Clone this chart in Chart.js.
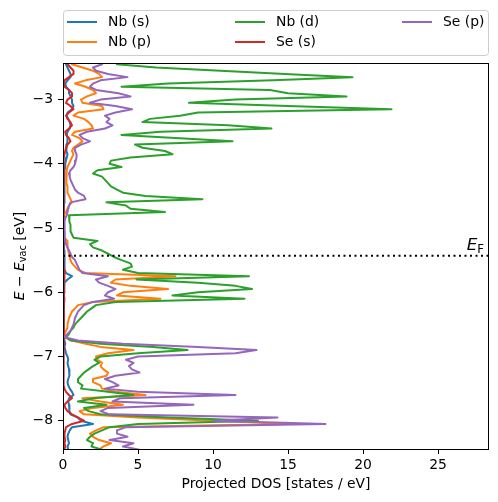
<!DOCTYPE html>
<html>
<head>
<meta charset="utf-8">
<script src="https://cdn.jsdelivr.net/npm/chart.js@4.4.0/dist/chart.umd.min.js"></script>
<style>
  html, body { margin: 0; padding: 0; background: #fff; }
  canvas { display: block; }
</style>
</head>
<body>
<canvas id="pdosChart" width="498" height="502"></canvas>
<script>
// energy grid (eV, relative to vacuum), top to bottom
var energies = [
  -2.40, -2.45, -2.50, -2.55, -2.60, -2.65, -2.70, -2.75, -2.80, -2.85,
  -2.90, -2.95, -3.00, -3.05, -3.10, -3.15, -3.20, -3.25, -3.30, -3.35,
  -3.40, -3.45, -3.50, -3.55, -3.60, -3.65, -3.70, -3.75, -3.80, -3.85,
  -3.90, -3.95, -4.00, -4.05, -4.10, -4.15, -4.20, -4.25, -4.30, -4.35,
  -4.40, -4.45, -4.50, -4.55, -4.60, -4.65, -4.70, -4.75, -4.80, -4.85,
  -4.90, -4.95, -5.00, -5.05, -5.10, -5.15, -5.20, -5.25, -5.30, -5.35,
  -5.40, -5.45, -5.50, -5.55, -5.60, -5.65, -5.70, -5.75, -5.80, -5.85,
  -5.90, -5.95, -6.00, -6.05, -6.10, -6.15, -6.20, -6.25, -6.30, -6.35,
  -6.40, -6.45, -6.50, -6.55, -6.60, -6.65, -6.70, -6.75, -6.80, -6.85,
  -6.90, -6.95, -7.00, -7.05, -7.10, -7.15, -7.20, -7.25, -7.30, -7.35,
  -7.40, -7.45, -7.50, -7.55, -7.60, -7.65, -7.70, -7.75, -7.80, -7.85,
  -7.90, -7.95, -8.00, -8.05, -8.10, -8.15, -8.20, -8.25, -8.30, -8.35,
  -8.40, -8.45
];

var nbS = [
  0.15, 0.2, 0.3, 0.4, 0.5, 0.5, 0.3, 0.15, 0.2, 0.4,
  0.4, 0.5, 0.6, 0.6, 0.7, 0.6, 0.3, 0.25, 0.35, 0.45,
  0.5, 0.45, 0.3, 0.25, 0.3, 0.3, 0.25, 0.2, 0.25, 0.3,
  0.25, 0.2, 0.15, 0.15, 0.1, 0.1, 0.08, 0.1, 0.08, 0.1,
  0.1, 0.12, 0.1, 0.12, 0.08, 0.06, 0.05, 0.05, 0.04, 0.04,
  0.04, 0.05, 0.06, 0.08, 0.1, 0.1, 0.08, 0.06, 0.06, 0.07,
  0.08, 0.1, 0.1, 0.12, 0.1, 0.12, 0.2, 0.6, 0.3, 0.1,
  0.08, 0.1, 0.08, 0.06, 0.1, 0.08, 0.06, 0.05, 0.05, 0.05,
  0.05, 0.05, 0.05, 0.05, 0.04, 0.04, 0.05, 0.1, 0.15, 0.1,
  0.15, 0.2, 0.3, 0.35, 0.3, 0.35, 0.4, 0.45, 0.4, 0.35,
  0.3, 0.35, 0.45, 0.6, 0.7, 0.4, 0.35, 0.4, 0.45, 0.4,
  0.5, 1.0, 1.2, 2.0, 0.6, 0.45, 0.35, 0.3, 0.35, 0.4,
  0.3, 0.35
];

var nbP = [
  0.6, 0.6, 1.3, 2.0, 2.4, 2.6, 1.5, 0.8, 1.5, 2.0,
  2.2, 1.6, 1.2, 1.3, 2.6, 2.7, 1.0, 0.7, 1.4, 1.7,
  1.9, 2.0, 0.8, 0.6, 1.1, 1.3, 1.0, 0.7, 0.6, 0.7,
  0.6, 0.5, 0.4, 0.3, 0.25, 0.2, 0.2, 0.25, 0.25, 0.3,
  0.3, 0.3, 0.4, 0.5, 0.6, 0.4, 0.3, 0.2, 0.05, 0.05,
  0.05, 0.05, 0.05, 0.05, 0.05, 0.1, 0.3, 0.3, 0.3, 0.35,
  0.4, 0.45, 0.5, 0.6, 0.8, 1.0, 1.5, 7.5, 3.5, 3.2,
  4.5, 7.0, 4.0, 3.6, 6.5, 2.0, 1.0, 0.8, 0.6, 0.5,
  0.4, 0.35, 0.3, 0.3, 0.2, 0.1, 0.1, 0.6, 1.5, 2.5,
  4.7, 3.0, 2.2, 2.3, 2.6, 2.5, 2.7, 3.0, 2.9, 2.0,
  2.0, 2.5, 2.6, 3.5, 5.5, 1.3, 2.5, 4.0, 2.0, 1.1,
  1.4, 5.0, 10.0, 15.0, 2.7, 2.2, 1.8, 2.0, 2.4, 3.2,
  2.7, 2.4
];

var nbD = [
  3.5, 3.6, 6.2, 10.5, 14.8, 19.3, 14.0, 7.0, 3.9, 13.8,
  15.0, 18.9, 11.5, 8.4, 15.0, 21.9, 9.0, 7.8, 5.8, 5.3,
  11.0, 13.9, 6.5, 3.9, 7.8, 11.3, 4.8, 5.3, 6.8, 7.3,
  4.5, 3.2, 3.1, 3.9, 2.3, 2.0, 2.6, 2.8, 3.0, 3.2,
  3.6, 4.0, 5.5, 9.3, 2.9, 4.2, 4.5, 6.8, 0.4, 0.4,
  0.45, 0.5, 0.5, 0.5, 0.6, 0.7, 2.3, 1.8, 2.0, 2.6,
  3.0, 3.4, 3.9, 4.5, 4.6, 4.0, 5.0, 12.4, 4.9, 9.0,
  11.5, 12.6, 9.0, 7.3, 12.1, 3.5, 2.2, 1.9, 1.6, 1.4,
  1.2, 1.0, 0.8, 0.7, 0.5, 0.4, 0.2, 0.5, 2.5, 6.0,
  8.3, 5.0, 2.5, 2.1, 2.4, 2.0, 1.7, 1.4, 1.2, 1.0,
  1.0, 1.3, 1.2, 3.0, 4.7, 2.0, 1.0, 2.9, 1.4, 1.7,
  2.5, 7.0, 13.0, 5.0, 3.1, 2.6, 2.1, 1.8, 1.6, 2.0,
  1.9, 2.6
];

var seS = [
  0.1, 0.3, 0.5, 0.7, 0.7, 0.4, 0.1, 0.05, 0.1, 0.4,
  0.6, 0.6, 0.3, 0.2, 0.5, 0.7, 0.4, 0.2, 0.3, 0.5,
  0.6, 0.4, 0.15, 0.2, 0.4, 0.5, 0.3, 0.2, 0.15, 0.1,
  0.05, 0.05, 0.04, 0.05, 0.04, 0.03, 0.03, 0.04, 0.03, 0.03,
  0.03, 0.04, 0.05, 0.05, 0.03, 0.02, 0.02, 0.02, 0.02, 0.02,
  0.02, 0.02, 0.02, 0.02, 0.02, 0.02, 0.02, 0.02, 0.02, 0.03,
  0.03, 0.03, 0.04, 0.05, 0.06, 0.08, 0.1, 0.1, 0.08, 0.05,
  0.05, 0.06, 0.08, 0.06, 0.05, 0.04, 0.03, 0.03, 0.02, 0.02,
  0.02, 0.02, 0.02, 0.02, 0.02, 0.02, 0.02, 0.03, 0.04, 0.05,
  0.06, 0.05, 0.05, 0.04, 0.05, 0.06, 0.05, 0.05, 0.06, 0.05,
  0.05, 0.05, 0.1, 0.2, 0.4, 0.6, 0.3, 0.1, 0.15, 0.3,
  0.6, 1.0, 1.4, 0.6, 0.2, 0.15, 0.1, 0.1, 0.15, 0.1,
  0.15, 0.1
];

var seP = [
  2.0, 2.6, 2.0, 2.2, 3.0, 4.3, 2.5, 2.0, 1.8, 2.2,
  3.7, 4.5, 2.5, 1.8, 3.5, 4.6, 3.5, 2.8, 3.1, 2.9,
  3.3, 2.8, 1.6, 1.1, 1.3, 1.8, 1.2, 0.8, 0.8, 0.9,
  0.9, 0.85, 0.8, 0.7, 0.5, 0.4, 0.45, 0.5, 0.6, 0.7,
  0.8, 1.0, 1.4, 1.5, 0.5, 0.4, 0.35, 0.3, 0.25, 0.15,
  0.1, 0.1, 0.1, 0.1, 0.1, 0.12, 0.15, 0.2, 0.3, 0.4,
  0.5, 0.6, 0.8, 0.9, 1.0, 1.1, 1.3, 3.0, 2.2, 2.4,
  3.0, 3.5, 3.0, 2.8, 3.4, 2.0, 1.4, 1.2, 1.0, 0.9,
  0.8, 0.75, 0.7, 0.6, 0.5, 0.3, 0.1, 1.0, 4.0, 9.0,
  12.9, 11.5, 5.0, 4.2, 4.7, 4.4, 4.6, 5.1, 3.5, 2.8,
  3.3, 3.7, 2.8, 5.0, 11.5, 3.8, 3.3, 8.7, 3.0, 2.5,
  3.1, 14.3, 10.0, 17.5, 4.2, 3.6, 3.6, 4.3, 3.1, 4.7,
  4.0, 5.1
];

var seriesLabels = ['Nb (s)', 'Nb (p)', 'Nb (d)', 'Se (s)', 'Se (p)'];
var seriesColors = ['#1f77b4', '#ff7f0e', '#2ca02c', '#d62728', '#9467bd'];
var fermiLevel = -5.43;
var xTicks = [0, 5, 10, 15, 20, 25];
var yTicks = [-8, -7, -6, -5, -4, -3];
var xMax = 28.4;
var yMin = -8.44, yMax = -2.43;

var FONT = "'DejaVu Sans', sans-serif";
Chart.defaults.font.family = FONT;
Chart.defaults.font.size = 13.9;
Chart.defaults.color = '#000';

function fmtTick(v) {
  return v < 0 ? '\u2212' + Math.abs(v) : String(v);
}

// draw a run of text pieces (used for the mathtext-like labels)
function drawParts(ctx, parts, x, y, align) {
  var total = 0;
  parts.forEach(function(p) {
    ctx.font = p.font;
    p.w = ctx.measureText(p.text).width;
    total += p.w;
  });
  var cx = align === 'center' ? x - total / 2 : (align === 'right' ? x - total : x);
  parts.forEach(function(p) {
    ctx.font = p.font;
    ctx.fillText(p.text, cx, y + (p.dy || 0));
    cx += p.w;
  });
}

var seriesValues = [nbS, nbP, nbD, seS, seP];
var datasets = seriesValues.map(function(vals, k) {
  return {
    label: seriesLabels[k],
    data: energies.map(function(e, i) { return { x: vals[i], y: e }; }),
    borderColor: seriesColors[k],
    backgroundColor: seriesColors[k],
    borderWidth: 2,
    borderJoinStyle: 'round',
    pointRadius: 0,
    showLine: true,
    fill: false,
    tension: 0,
    order: seriesValues.length - k
  };
});
datasets.push({
  label: 'E_F',
  data: [{ x: 0, y: fermiLevel }, { x: xMax, y: fermiLevel }],
  borderColor: '#000',
  borderWidth: 2,
  borderDash: [2, 3.5],
  pointRadius: 0,
  showLine: true,
  fill: false,
  order: 0
});

var decor = {
  id: 'decor',
  afterDraw: function(chart) {
    var ctx = chart.ctx, a = chart.chartArea;
    ctx.save();
    // axes frame
    ctx.strokeStyle = '#000';
    ctx.lineWidth = 1;
    ctx.strokeRect(a.left + 0.5, a.top + 0.5, a.right - a.left - 1, a.bottom - a.top);

    ctx.fillStyle = '#000';
    ctx.textBaseline = 'alphabetic';
    ctx.textAlign = 'left';

    // x title
    ctx.font = '13.9px ' + FONT;
    drawParts(ctx, [{ text: 'Projected DOS [states / eV]', font: '13.9px ' + FONT }],
      (a.left + a.right) / 2, a.bottom + 39, 'center');

    // y title
    ctx.save();
    ctx.translate(23.5, (a.top + a.bottom) / 2);
    ctx.rotate(-Math.PI / 2);
    drawParts(ctx, [
      { text: 'E', font: 'italic 13.9px ' + FONT },
      { text: ' \u2212 ', font: '13.9px ' + FONT },
      { text: 'E', font: 'italic 13.9px ' + FONT },
      { text: 'vac', font: '9.7px ' + FONT, dy: 2.5 },
      { text: ' [eV]', font: '13.9px ' + FONT }
    ], 0, 0, 'center');
    ctx.restore();

    // Fermi level label
    var yF = chart.scales.y.getPixelForValue(fermiLevel);
    drawParts(ctx, [
      { text: 'E', font: 'italic 16.7px ' + FONT },
      { text: 'F', font: '11.7px ' + FONT, dy: 3 }
    ], a.right - 5, yF - 6, 'right');

    // legend, three columns filled column by column
    var bx = a.left + 0.5, by = 10.5, bw = a.right - a.left - 1, bh = 45, r = 3;
    ctx.beginPath();
    ctx.moveTo(bx + r, by);
    ctx.arcTo(bx + bw, by, bx + bw, by + bh, r);
    ctx.arcTo(bx + bw, by + bh, bx, by + bh, r);
    ctx.arcTo(bx, by + bh, bx, by, r);
    ctx.arcTo(bx, by, bx + bw, by, r);
    ctx.closePath();
    ctx.fillStyle = 'rgba(255,255,255,0.8)';
    ctx.fill();
    ctx.strokeStyle = '#cccccc';
    ctx.stroke();

    var colX = [a.left + 4, a.left + 172, a.left + 339];
    var rowY = [22, 42];
    ctx.font = '13.9px ' + FONT;
    ctx.textBaseline = 'middle';
    ctx.lineWidth = 2;
    seriesLabels.forEach(function(lbl, k) {
      var c = Math.floor(k / 2), rw = k % 2;
      var lx = colX[c], ly = rowY[rw];
      ctx.strokeStyle = seriesColors[k];
      ctx.beginPath();
      ctx.moveTo(lx, ly);
      ctx.lineTo(lx + 30, ly);
      ctx.stroke();
      ctx.fillStyle = '#000';
      ctx.fillText(lbl, lx + 41, ly);
    });
    ctx.restore();
  }
};

new Chart(document.getElementById('pdosChart').getContext('2d'), {
  type: 'scatter',
  data: { datasets: datasets },
  options: {
    responsive: false,
    animation: false,
    devicePixelRatio: 1,
    layout: { padding: { left: 0, right: 9, top: 63, bottom: 0 } },
    plugins: {
      legend: { display: false },
      tooltip: { enabled: false }
    },
    scales: {
      x: {
        type: 'linear',
        position: 'bottom',
        min: 0,
        max: xMax,
        afterBuildTicks: function(s) { s.ticks = xTicks.map(function(v) { return { value: v }; }); },
        afterFit: function(s) { s.height = 53; },
        border: { display: false },
        grid: { display: true, drawOnChartArea: false, drawTicks: true, tickLength: 5, tickWidth: 1, tickColor: '#000' },
        ticks: { padding: 3, maxRotation: 0, callback: fmtTick }
      },
      y: {
        type: 'linear',
        position: 'left',
        min: yMin,
        max: yMax,
        afterBuildTicks: function(s) { s.ticks = yTicks.map(function(v) { return { value: v }; }); },
        afterFit: function(s) { s.width = 63; },
        border: { display: false },
        grid: { display: true, drawOnChartArea: false, drawTicks: true, tickLength: 5, tickWidth: 1, tickColor: '#000' },
        ticks: { padding: 5, callback: fmtTick }
      }
    }
  },
  plugins: [decor]
});
</script>
</body>
</html>
